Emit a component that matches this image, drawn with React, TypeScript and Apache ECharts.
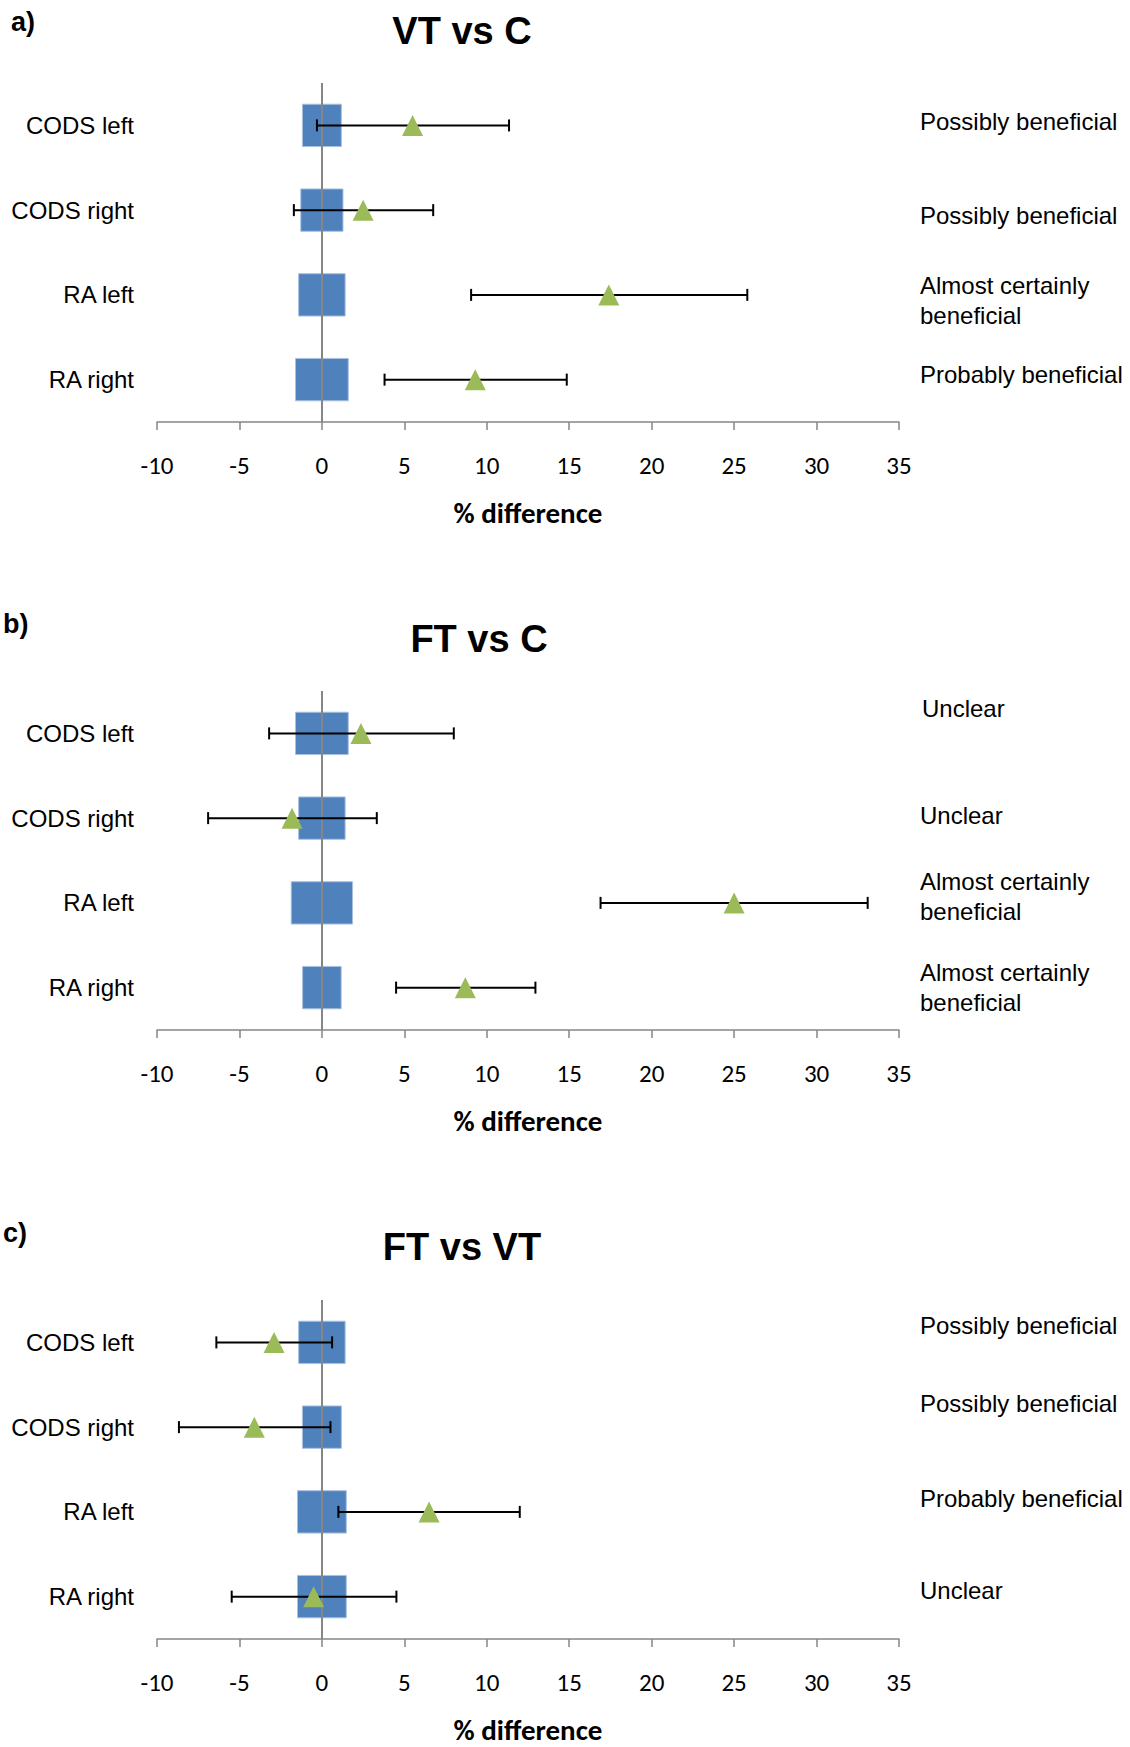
import { useEffect, useRef } from "react";
import * as echarts from "echarts";

// ---------- data ----------
const categories = ["CODS left", "CODS right", "RA left", "RA right"];
const xMin = -10;
const xMax = 35;
const xStep = 5;

const panelTitles = ["VT vs C", "FT vs C", "FT vs VT"];
const panelLetters = ["a)", "b)", "c)"];
const axisName = "% difference";

// Panel a: VT vs C
const swcA = [1.18, 1.28, 1.41, 1.6];
const effA = [5.5, 2.5, 17.4, 9.3];
const lowA = [-0.3, -1.7, 9.05, 3.8];
const highA = [11.35, 6.75, 25.8, 14.85];
const annotA = ["Possibly beneficial", "Possibly beneficial", "Almost certainly\nbeneficial", "Probably beneficial"];

// Panel b: FT vs C
const swcB = [1.6, 1.41, 1.86, 1.17];
const effB = [2.37, -1.81, 25.0, 8.7];
const lowB = [-3.2, -6.9, 16.9, 4.5];
const highB = [8.0, 3.33, 33.1, 12.95];
const annotB = ["Unclear", "Unclear", "Almost certainly\nbeneficial", "Almost certainly\nbeneficial"];

// Panel c: FT vs VT
const swcC = [1.41, 1.18, 1.48, 1.48];
const effC = [-2.9, -4.1, 6.5, -0.5];
const lowC = [-6.4, -8.67, 1.0, -5.47];
const highC = [0.62, 0.52, 12.0, 4.52];
const annotC = ["Possibly beneficial", "Possibly beneficial", "Probably beneficial", "Unclear"];

// ---------- layout / style ----------
const gridLeft = 157;
const gridWidth = 742;
const gridHeight = 339;
const gridTops = [83, 691, 1300];
const titlePos = [
  [462, 31],
  [479, 639],
  [462, 1247],
];
const letterPos = [
  [11, 22],
  [3, 624],
  [3, 1233],
];
const annotX = [[920, 920, 920, 920], [922, 920, 920, 920], [920, 920, 920, 920]];
const annotY = [
  [121, 215, 300, 374],
  [708, 815, 896, 987],
  [1325, 1403, 1498, 1590],
];

const ARIAL = "'Liberation Sans', Arial, sans-serif";
const CALIBRI = "Carlito, Lato, sans-serif";
const BLUE = "#4F81BD";
const GREEN = "#9BBB59";
const GRAY = "#868686";

const panels = [
  { swc: swcA, eff: effA, low: lowA, high: highA, annot: annotA },
  { swc: swcB, eff: effB, low: lowB, high: highB, annot: annotB },
  { swc: swcC, eff: effC, low: lowC, high: highC, annot: annotC },
];

function buildOption() {
  const grid: any[] = [];
  const xAxis: any[] = [];
  const yAxis: any[] = [];
  const series: any[] = [];
  const graphic: any[] = [];

  panels.forEach((p, i) => {
    grid.push({ left: gridLeft, width: gridWidth, top: gridTops[i], height: gridHeight });
    xAxis.push({
      gridIndex: i,
      type: "value",
      min: xMin,
      max: xMax,
      interval: xStep,
      splitLine: { show: false },
      axisLine: { show: true, onZero: false, lineStyle: { color: GRAY, width: 1.5 } },
      axisTick: { show: true, length: 8, lineStyle: { color: GRAY, width: 1.5 } },
      axisLabel: { color: "#000", fontFamily: CALIBRI, fontSize: 25, margin: 31 },
      name: axisName,
      nameLocation: "middle",
      nameGap: 76,
      nameTextStyle: { color: "#000", fontFamily: CALIBRI, fontWeight: "bold", fontSize: 29 },
    });
    yAxis.push({
      gridIndex: i,
      type: "category",
      data: categories,
      inverse: true,
      axisLine: { show: false },
      axisTick: { show: false },
      splitLine: { show: false },
      axisLabel: { color: "#000", fontFamily: ARIAL, fontSize: 24, margin: 23 },
    });

    // blue trivial-effect boxes
    series.push({
      type: "custom",
      xAxisIndex: i,
      yAxisIndex: i,
      z: 2,
      encode: { x: 0, y: 1 },
      data: p.swc.map((v, k) => [v, k]),
      renderItem: (params: any, api: any) => {
        const k = api.value(1);
        const s = api.value(0);
        const a = api.coord([-s, k]);
        const b = api.coord([s, k]);
        const h = api.size([0, 1])[1] * 0.5;
        return {
          type: "rect",
          shape: { x: a[0], y: a[1] - h / 2, width: b[0] - a[0], height: h },
          style: { fill: BLUE, stroke: "#A9C1E0", lineWidth: 1 },
        };
      },
      markLine: {
        silent: true,
        symbol: ["none", "none"],
        label: { show: false },
        lineStyle: { color: GRAY, width: 2, type: "solid" },
        emphasis: { disabled: true },
        data: [{ xAxis: 0 }],
      },
    });

    // error bars
    series.push({
      type: "custom",
      xAxisIndex: i,
      yAxisIndex: i,
      z: 6,
      encode: { x: [0, 1], y: 2 },
      data: p.low.map((v, k) => [v, p.high[k], k]),
      renderItem: (params: any, api: any) => {
        const k = api.value(2);
        const a = api.coord([api.value(0), k]);
        const b = api.coord([api.value(1), k]);
        const c = 6;
        const style = { stroke: "#000", lineWidth: 2 };
        return {
          type: "group",
          children: [
            { type: "line", shape: { x1: a[0], y1: a[1], x2: b[0], y2: b[1] }, style },
            { type: "line", shape: { x1: a[0], y1: a[1] - c, x2: a[0], y2: a[1] + c }, style },
            { type: "line", shape: { x1: b[0], y1: b[1] - c, x2: b[0], y2: b[1] + c }, style },
          ],
        };
      },
    });

    // effect triangles
    series.push({
      type: "scatter",
      xAxisIndex: i,
      yAxisIndex: i,
      z: 7,
      symbol: "triangle",
      symbolSize: 21,
      itemStyle: { color: GREEN, opacity: 1 },
      data: p.eff.map((v, k) => [v, k]),
    });

    // titles, letters, annotations
    graphic.push({
      type: "text",
      x: titlePos[i][0],
      y: titlePos[i][1],
      style: {
        text: panelTitles[i],
        fill: "#000",
        fontFamily: ARIAL,
        fontWeight: "bold",
        fontSize: 38,
        align: "center",
        verticalAlign: "middle",
      },
    });
    graphic.push({
      type: "text",
      x: letterPos[i][0],
      y: letterPos[i][1],
      style: {
        text: panelLetters[i],
        fill: "#000",
        fontFamily: ARIAL,
        fontWeight: "bold",
        fontSize: 27,
        align: "left",
        verticalAlign: "middle",
      },
    });
    p.annot.forEach((t, k) => {
      graphic.push({
        type: "text",
        x: annotX[i][k],
        y: annotY[i][k],
        style: {
          text: t,
          fill: "#000",
          fontFamily: ARIAL,
          fontSize: 24,
          lineHeight: 30,
          align: "left",
          verticalAlign: "middle",
        },
      });
    });
  });

  return {
    animation: false,
    backgroundColor: "#fff",
    grid,
    xAxis,
    yAxis,
    series,
    graphic,
  };
}

export default function App() {
  const ref = useRef<HTMLDivElement>(null);
  useEffect(() => {
    document.body.style.margin = "0";
    const chart = echarts.init(ref.current!, null, { renderer: "svg" });
    chart.setOption(buildOption() as any);
    return () => chart.dispose();
  }, []);
  return <div ref={ref} style={{ width: 1130, height: 1747 }} />;
}
